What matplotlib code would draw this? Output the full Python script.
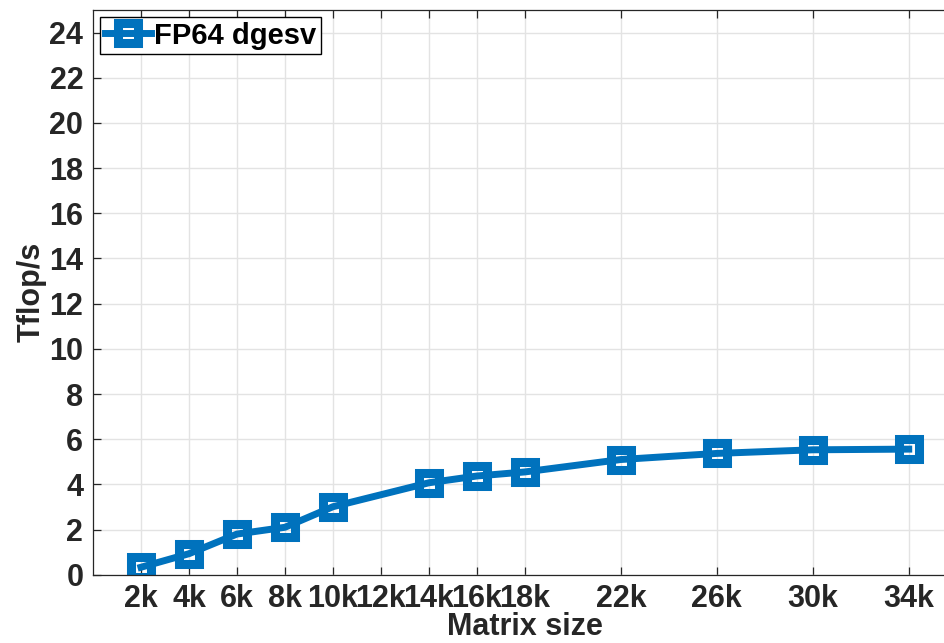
import matplotlib

matplotlib.use("Agg")
import matplotlib.pyplot as plt

# matrix sizes (in thousands) and measured FP64 dgesv performance
matrix_size_k = [2, 4, 6, 8, 10, 14, 16, 18, 22, 26, 30, 34]
tflops_fp64 = [0.33, 0.93, 1.80, 2.10, 3.01, 4.07, 4.37, 4.55, 5.10, 5.37, 5.53, 5.56]

x_ticks = [2, 4, 6, 8, 10, 12, 14, 16, 18, 22, 26, 30, 34]
x_tick_labels = [f"{v}k" for v in x_ticks]
y_ticks = list(range(0, 25, 2))

plt.rcParams["font.family"] = ["Liberation Sans", "DejaVu Sans"]
plt.rcParams["font.weight"] = "bold"

fig = plt.figure(figsize=(9.45, 6.43), dpi=100)
# axes run past the right edge like in the (cropped) original
ax = fig.add_axes([0.0984, 0.1062, 0.914, 0.8782])

ax.plot(
    matrix_size_k,
    tflops_fp64,
    color="#0072BD",
    linewidth=5,
    marker="s",
    markersize=13.7,
    markeredgewidth=6.5,
    markerfacecolor="none",
    label="FP64 dgesv",
)

ax.set_xlim(0, 36)
ax.set_ylim(0, 25)
ax.set_xticks(x_ticks)
ax.set_xticklabels(x_tick_labels)
ax.set_yticks(y_ticks)

ax.grid(True, color="#e3e3e3", linewidth=1.0)
ax.set_axisbelow(True)

ax.tick_params(
    axis="both",
    direction="in",
    length=6,
    width=0.9,
    colors="#262626",
    labelsize=22,
    pad=7,
    top=True,
    right=True,
)
for side in ["left", "bottom", "top", "right"]:
    ax.spines[side].set_color("#262626")
    ax.spines[side].set_linewidth(0.9)

# keep the x label just inside the bottom edge
ax.set_xlabel("Matrix size", fontsize=22, fontweight="bold", color="#262626", labelpad=-2)
ax.set_ylabel("Tflop/s", fontsize=22, fontweight="bold", color="#262626", labelpad=2)

leg = ax.legend(
    loc="upper left",
    fontsize=21,
    handlelength=1.6,
    handletextpad=0.1,
    borderpad=0.15,
    borderaxespad=0.25,
    fancybox=False,
    framealpha=1,
)
leg.get_frame().set_edgecolor("black")
leg.get_frame().set_linewidth(1.0)

fig.savefig("out.png", dpi=100)
